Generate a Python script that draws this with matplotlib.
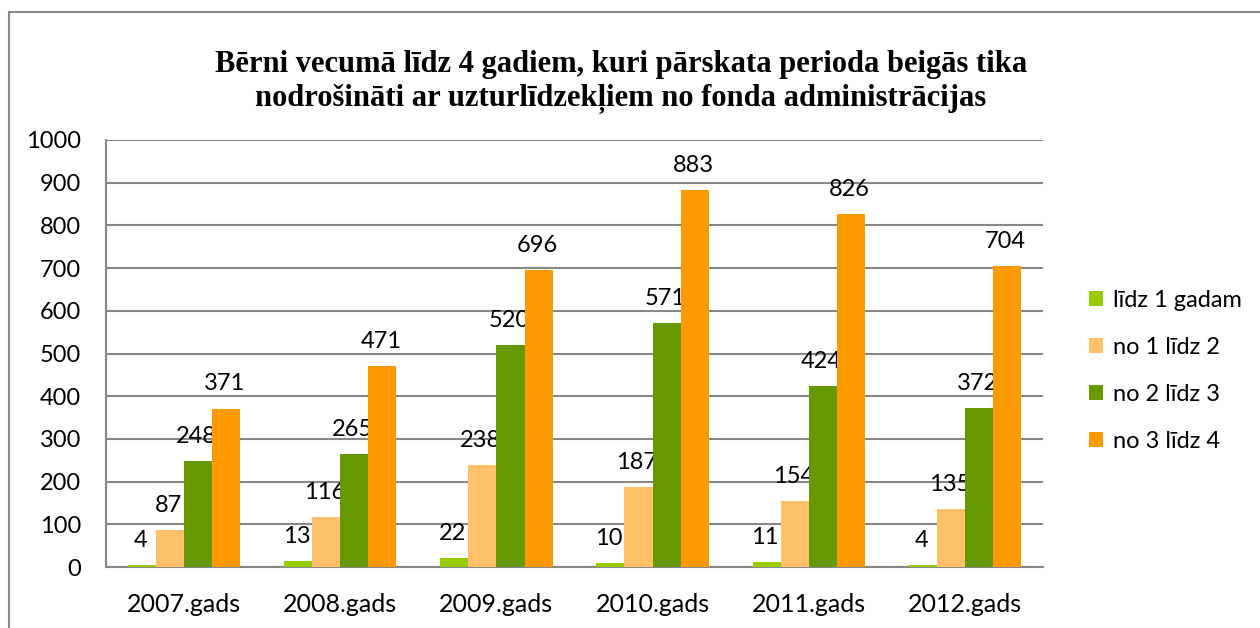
import matplotlib.pyplot as plt
import numpy as np
from matplotlib.patches import Rectangle

years = ['2007.gads', '2008.gads', '2009.gads', '2010.gads', '2011.gads', '2012.gads']
series_names = ['līdz 1 gadam', 'no 1 līdz 2', 'no 2 līdz 3', 'no 3 līdz 4']
lidz1 = [4, 13, 22, 10, 11, 4]
no1_2 = [87, 116, 238, 187, 154, 135]
no2_3 = [248, 265, 520, 571, 424, 372]
no3_4 = [371, 471, 696, 883, 826, 704]
colors = ['#99CC00', '#FFC06A', '#669900', '#FF9900']

plt.rcParams['font.family'] = ['Lato', 'DejaVu Sans']

fig = plt.figure(figsize=(12.6, 6.28), dpi=100)
ax = fig.add_axes([106 / 1260, 1 - 567 / 628, 937 / 1260, 427 / 628])

# outer chart border
fig.patches.append(Rectangle((9 / 1260, -0.5), 1.5, 1.5 - 12 / 628, transform=fig.transFigure,
                             fill=False, edgecolor='#888888', linewidth=1.5))

x = np.arange(len(years))
w = 0.18
data = [lidz1, no1_2, no2_3, no3_4]
for i, (vals, name, c) in enumerate(zip(data, series_names, colors)):
    pos = x + (i - 1.5) * w
    ax.bar(pos, vals, w, color=c, label=name, zorder=3)
    for p, v in zip(pos, vals):
        ax.text(p - 0.01, v + 33, str(v), ha='center', va='bottom', fontsize=17, color='black')

ax.set_xlim(-0.5, len(years) - 0.5)
ax.set_ylim(0, 1000)
ax.set_yticks(range(0, 1001, 100))
ax.set_xticks(x)
ax.set_xticklabels(years)
ax.tick_params(axis='y', labelsize=17, length=0, pad=18)
ax.tick_params(axis='x', labelsize=18, length=0, pad=19)
ax.grid(axis='y', color='#888888', linewidth=1.5, zorder=0)
for s in ['top', 'right']:
    ax.spines[s].set_visible(False)
for s in ['left', 'bottom']:
    ax.spines[s].set_color('#888888')
    ax.spines[s].set_linewidth(1.5)

fig.text(621 / 1260, 1 - 82 / 628,
         'Bērni vecumā līdz 4 gadiem, kuri pārskata perioda beigās tika\n'
         'nodrošināti ar uzturlīdzekļiem no fonda administrācijas',
         ha='center', va='center', fontsize=22, fontweight='bold',
         family=['Liberation Serif', 'DejaVu Serif'], linespacing=1.25)

ax.legend(loc='center left', bbox_to_anchor=(1.026, 0.46), frameon=False, fontsize=17,
          handlelength=0.62, handleheight=0.62, labelspacing=1.1, handletextpad=0.4)

fig.savefig('out.png', dpi=100)
